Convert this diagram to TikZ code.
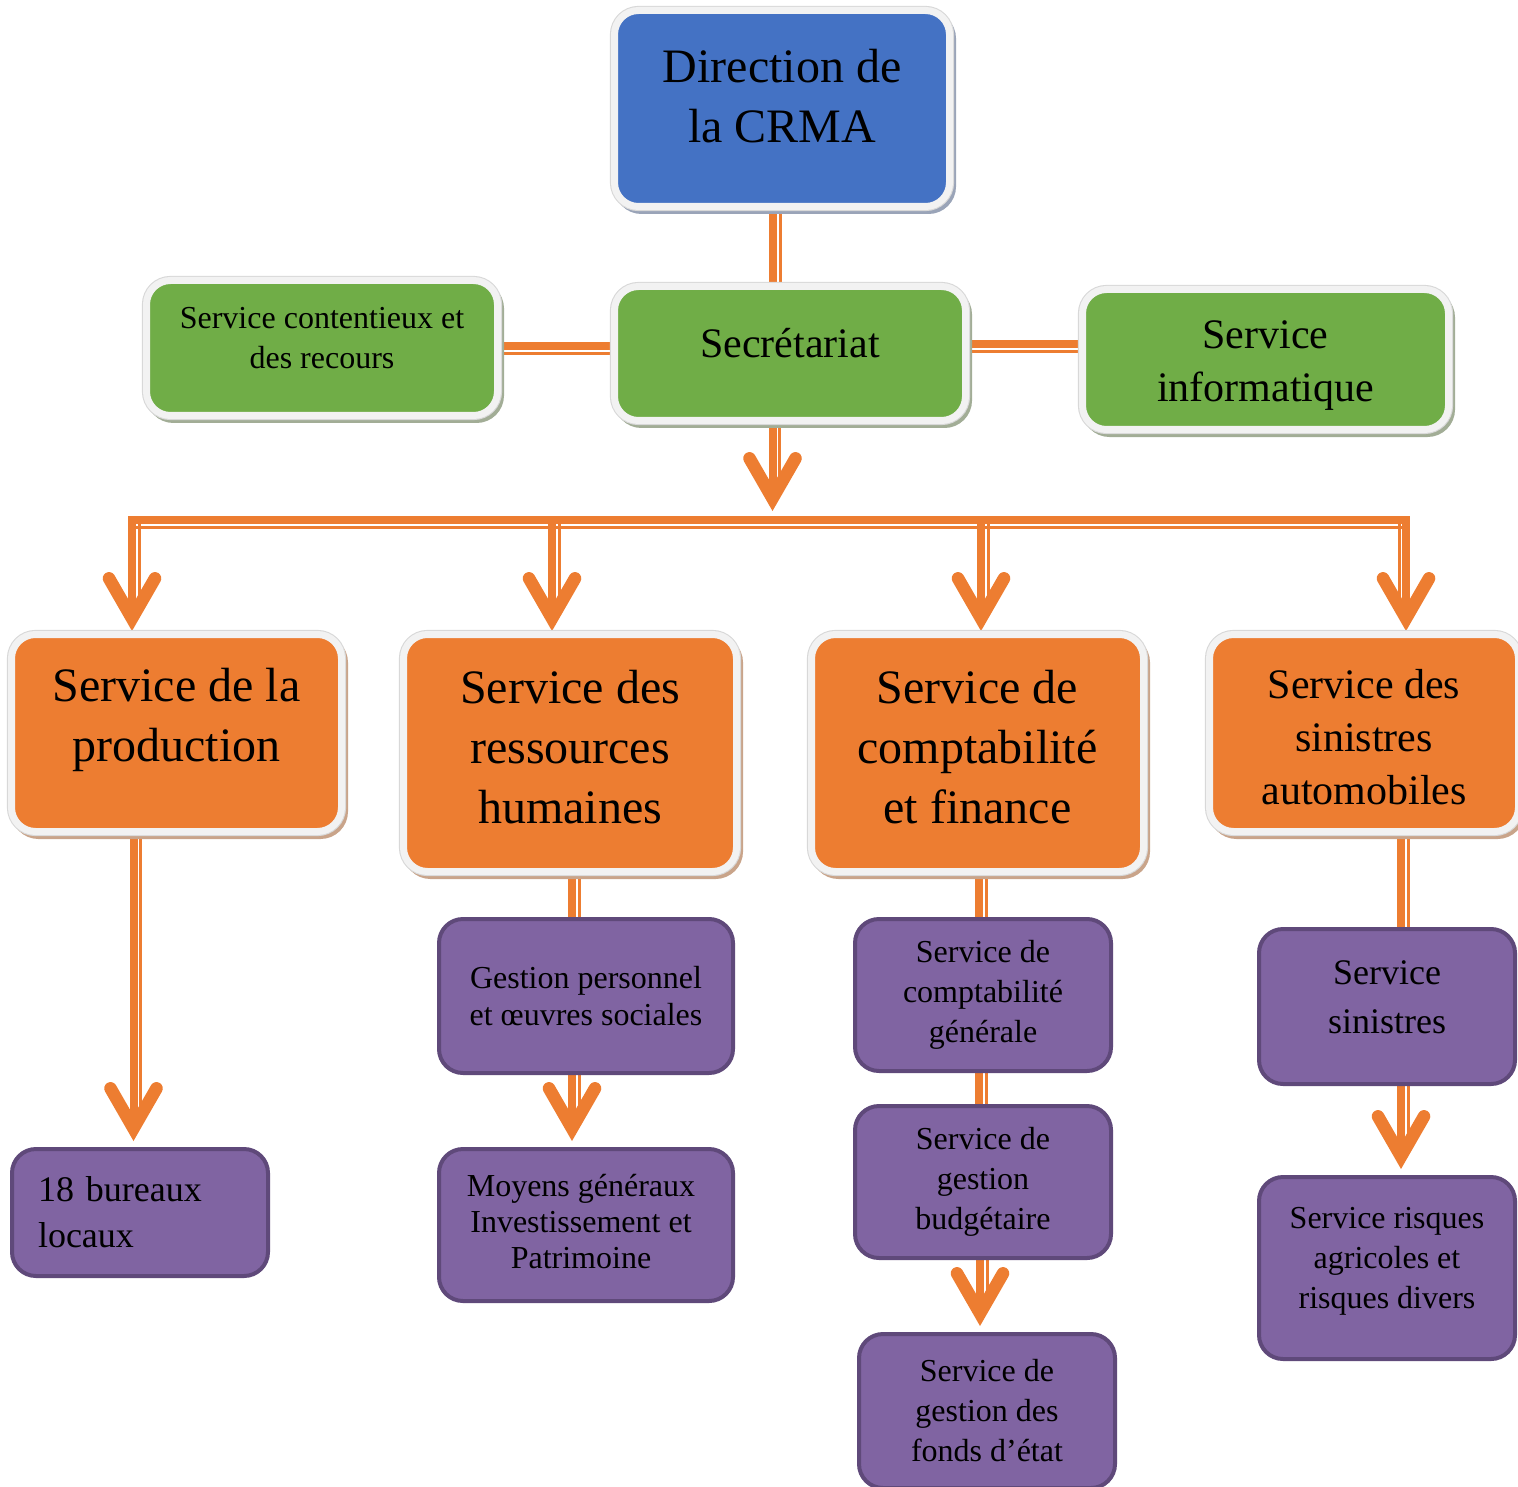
\documentclass[tikz,border=0pt]{standalone}
\usepackage{fontspec}
\setmainfont{Liberation Serif}
\usetikzlibrary{arrows.meta}
\definecolor{blu}{HTML}{4472C4}
\definecolor{grn}{HTML}{70AD47}
\definecolor{org}{HTML}{ED7D31}
\definecolor{pur}{HTML}{8064A2}
\definecolor{purd}{HTML}{5F497A}
\definecolor{frm}{HTML}{F2F2F2}
\definecolor{frmo}{HTML}{D8D8D8}
\definecolor{shblu}{HTML}{9AA4B8}
\definecolor{shgrn}{HTML}{A2AD96}
\definecolor{shorg}{HTML}{C9A48A}
\definecolor{lnc}{HTML}{ED7D31}
\newcommand\fsz[2]{\fontsize{#1}{#2}\selectfont}
\pgfdeclarelayer{bg}
\pgfsetlayers{bg,main}
\tikzset{
  topbox/.style 2 args={rectangle, rounded corners=12pt, inner sep=0pt, fill=#1, draw=frm, line width=3.5pt,
    preaction={draw=#2, fill=#2, line width=3.5pt, transform canvas={shift={(1.5pt,-2pt)}}},
    preaction={draw=frmo, line width=4.6pt}},
  purbox/.style={rectangle, rounded corners=12pt, inner sep=0pt, fill=pur, draw=purd, line width=2pt, align=center},
  vlink/.style={draw=lnc, line width=4pt, postaction={draw=lnc, line width=1.5pt, -, transform canvas={xshift=#1}}},
  vlink/.default=3.5pt,
  vlinka/.style={draw=lnc, line width=4pt, postaction={draw=lnc, line width=1.5pt, -, shorten >=14pt, transform canvas={xshift=#1}}},
  vlinka/.default=3.5pt,
  hlink/.style={draw=lnc, line width=4pt, postaction={draw=lnc, line width=1.5pt, -, transform canvas={yshift=-3.75pt}}},
  arr/.style={-{Straight Barb[length=20pt 0, width=23pt 0, line width=6.3pt 0, line cap=round, line join=miter]}}
}
\begin{document}
\begin{tikzpicture}[x=0.5pt,y=-0.5pt]
\useasboundingbox (0,0) rectangle (1518,1486);

% top level
\node[topbox={blu}{shblu}, minimum width=167.5pt, minimum height=98pt,
  label={[align=center, font=\fsz{24}{30}, yshift=6pt]center:{Direction de\\la CRMA}}] (dir) at (782,108.5) {};
\node[topbox={grn}{shgrn}, minimum width=175.5pt, minimum height=67pt,
  label={[align=center, font=\fsz{21}{26}, yshift=5pt]center:{Secrétariat}}] (sec) at (790,353.5) {};
\node[topbox={grn}{shgrn}, minimum width=175.5pt, minimum height=67.5pt,
  label={[align=center, font=\fsz{16}{20}, yshift=5pt]center:{Service contentieux et\\des recours}}] (cont) at (322,348) {};
\node[topbox={grn}{shgrn}, minimum width=183pt, minimum height=70pt,
  label={[align=center, font=\fsz{21}{26.5}, yshift=-3pt]center:{Service\\informatique}}] (info) at (1265.5,359.5) {};

% services
\node[topbox={org}{shorg}, minimum width=165pt, minimum height=98.5pt,
  label={[align=center, font=\fsz{24}{30}, yshift=6.5pt]center:{Service de la\\production}}] (prod) at (176.5,733) {};
\node[topbox={org}{shorg}, minimum width=166.5pt, minimum height=118.5pt,
  label={[align=center, font=\fsz{24}{30}, yshift=3pt]center:{Service des\\ressources\\humaines}}] (rh) at (570,753) {};
\node[topbox={org}{shorg}, minimum width=166pt, minimum height=118.5pt,
  label={[align=center, font=\fsz{24}{30}, yshift=3pt]center:{Service de\\comptabilité\\et finance}}] (cpt) at (977.5,753) {};
\node[topbox={org}{shorg}, minimum width=154.5pt, minimum height=98.5pt,
  label={[align=center, font=\fsz{21}{26.5}, yshift=-2pt]center:{Service des\\sinistres\\automobiles}}] (sin) at (1364,733) {};

% sub services
\node[purbox, minimum width=128pt, minimum height=63.5pt, text width=102pt, align=left, font=\fsz{18}{23}] (bur) at (140,1212.5) {18 bureaux\\locaux};
\node[purbox, minimum width=147pt, minimum height=77pt, font=\fsz{16}{18.5}] (gp) at (586,996) {Gestion personnel\\et œuvres sociales};
\node[purbox, minimum width=147pt, minimum height=76pt,
  label={[align=center, font=\fsz{16}{18}, xshift=-2.5pt, yshift=1.5pt]center:{Moyens généraux\\Investissement et\\Patrimoine}}] (moy) at (586,1225) {};
\node[purbox, minimum width=128pt, minimum height=76pt, font=\fsz{16}{20}] (cg) at (983,995) {Service de\\comptabilité\\générale};
\node[purbox, minimum width=128pt, minimum height=76pt, font=\fsz{16}{20}] (gb) at (983,1182) {Service de\\gestion\\budgétaire};
\node[purbox, minimum width=128pt, minimum height=77pt, font=\fsz{16}{20}] (fe) at (987,1411) {Service de\\gestion des\\fonds d’état};
\node[purbox, minimum width=128pt, minimum height=77.5pt,
  label={[align=center, font=\fsz{18}{24.5}, yshift=4.5pt]center:{Service\\sinistres}}] (ss) at (1387,1006.5) {};
\node[purbox, minimum width=128pt, minimum height=91pt,
  label={[align=center, font=\fsz{16}{20}, yshift=3.5pt]center:{Service risques\\agricoles et\\risques divers}}] (rq) at (1387,1268) {};

\coordinate (hub) at (772.5,511);
\coordinate (busW) at (128,520);
\coordinate (busE) at (1410,520);
\coordinate (b1) at (132,516);
\coordinate (b2) at (552,516);
\coordinate (b3) at (981,516);
\coordinate (b4) at (1406,516);

\begin{pgfonlayer}{bg}
\draw[vlink] ([xshift=-4.5pt]dir.south) -- ([xshift=-4.5pt]dir.south |- sec.north);
\draw[hlink] ([yshift=1pt]cont.east) -- ([yshift=1pt]cont.east -| sec.west);
\draw[hlink] ([yshift=4.5pt]sec.east) -- ([yshift=4.5pt]sec.east -| info.west);
\draw[vlinka, arr] ([xshift=-8.75pt]sec.south) -- (hub);
\draw[hlink] (busW) -- (busE);
\draw[vlinka, arr] (b1) -- (b1 |- prod.north);
\draw[vlinka, arr] (b2) -- (b2 |- rh.north);
\draw[vlinka, arr] (b3) -- (b3 |- cpt.north);
\draw[vlinka=-3.5pt, arr] (b4) -- (b4 |- sin.north);
\draw[vlinka, arr, shorten >=3pt] ([xshift=-21.5pt]prod.south) -- ([xshift=-21.5pt]prod.south |- bur.north);
\draw[vlink] ([xshift=1pt]rh.south) -- ([xshift=1pt]rh.south |- gp.north);
\draw[vlinka, arr, shorten >=3pt] ([xshift=-7pt]gp.south) -- ([xshift=-7pt]gp.south |- moy.north);
\draw[vlink] ([xshift=0.75pt]cpt.south) -- ([xshift=0.75pt]cpt.south |- cg.north);
\draw[vlink] ([xshift=-2pt]cg.south) -- ([xshift=-2pt]cg.south |- gb.north);
\draw[vlinka, arr, shorten >=3pt] ([xshift=-1.5pt]gb.south) -- ([xshift=-1.5pt]gb.south |- fe.north);
\draw[vlink] ([xshift=18.5pt]sin.south) -- ([xshift=18.5pt]sin.south |- ss.north);
\draw[vlinka, arr, shorten >=3pt] ([xshift=7pt]ss.south) -- ([xshift=7pt]ss.south |- rq.north);
\end{pgfonlayer}
\end{tikzpicture}
\end{document}
